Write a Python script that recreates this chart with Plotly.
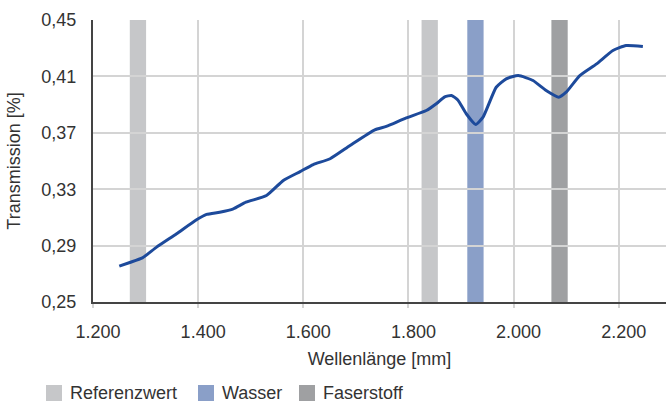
import plotly.graph_objects as go

# Spectrum: wavelength vs. transmission
wavelength = [1250, 1270, 1294, 1321, 1359, 1397, 1416, 1441, 1467, 1491, 1530,
              1562, 1594, 1619, 1651, 1689, 1736, 1758, 1796, 1834, 1853, 1869,
              1882, 1894, 1910, 1928, 1942, 1967, 1986, 2009, 2037, 2062, 2086,
              2100, 2126, 2158, 2189, 2214, 2246]
transmission = [0.2754, 0.2780, 0.2813, 0.2889, 0.2984, 0.3083, 0.3121, 0.3137,
                0.3161, 0.3208, 0.3255, 0.3362, 0.3425, 0.3475, 0.3516, 0.3610,
                0.3721, 0.3745, 0.3806, 0.3858, 0.3906, 0.3955, 0.3965, 0.3933,
                0.3835, 0.3759, 0.3811, 0.4023, 0.4083, 0.4106, 0.4071, 0.4000,
                0.3953, 0.3988, 0.4106, 0.4189, 0.4284, 0.4319, 0.4312]

# Absorption bands (start, end) per category
band_names = ["Referenzwert", "Referenzwert", "Wasser", "Faserstoff"]
band_start = [1270, 1825, 1912, 2072]
band_end = [1301, 1856, 1943, 2103]
band_colors = {"Referenzwert": "#c6c7c9", "Wasser": "#8a9fc8", "Faserstoff": "#9fa0a2"}
legend_items = ["Referenzwert", "Wasser", "Faserstoff"]

x_ticks = [1200, 1400, 1600, 1800, 2000, 2200]
y_ticks = [0.25, 0.29, 0.33, 0.37, 0.41, 0.45]

FONT = "Liberation Sans, Arial, sans-serif"
FS = 18
TXT = "#333333"

W, H = 666, 405
ML, MR, MT, MB = 93, 0, 20, 103
PW, PH = W - ML - MR, H - MT - MB


def px_x(p):
    return (p - ML) / PW


def px_y(p):
    return (H - MB - p) / PH


fig = go.Figure()

shapes = []
for name, x0, x1 in zip(band_names, band_start, band_end):
    shapes.append(dict(type="rect", xref="x", yref="paper", x0=x0, x1=x1,
                       y0=0, y1=1, fillcolor=band_colors[name],
                       line=dict(width=0), layer="between"))

fig.add_trace(go.Scatter(
    x=wavelength, y=transmission, mode="lines",
    line=dict(color="#1d4a9b", width=3, shape="spline", smoothing=0.5),
    showlegend=False, hoverinfo="x+y"))

# Legend swatches and labels below the axis title
annotations = []
swatch_left = [46, 198, 299]
for name, left in zip(legend_items, swatch_left):
    shapes.append(dict(type="rect", xref="paper", yref="paper",
                       x0=px_x(left), x1=px_x(left + 16),
                       y0=px_y(401), y1=px_y(385),
                       fillcolor=band_colors[name], line=dict(width=0)))
    annotations.append(dict(xref="paper", yref="paper", x=px_x(left + 22),
                            y=px_y(393), text=name, showarrow=False,
                            xanchor="left", yanchor="middle",
                            font=dict(family=FONT, size=FS, color=TXT)))

fig.update_layout(
    width=W, height=H,
    margin=dict(l=ML, r=MR, t=MT, b=MB, pad=0),
    paper_bgcolor="white", plot_bgcolor="white",
    separators=",.",
    font=dict(family=FONT, size=FS, color=TXT),
    shapes=shapes, annotations=annotations,
    showlegend=False,
)

fig.update_xaxes(
    range=[1200, 2290], tickvals=x_ticks, tickformat=",d",
    showgrid=True, gridcolor="#d4d4d4", gridwidth=2,
    showline=True, linecolor="#444444", linewidth=2,
    ticks="outside", ticklen=4, tickcolor="#d4d4d4", tickwidth=2,
    ticklabelshift=5, ticklabelstandoff=8,
    zeroline=False,
    title=dict(text="Wellenlänge [mm]", standoff=12,
               font=dict(family=FONT, size=FS, color=TXT)),
)
fig.update_yaxes(
    range=[0.25, 0.45], tickvals=y_ticks, tickformat=".2f",
    showgrid=True, gridcolor="#d4d4d4", gridwidth=2,
    showline=True, linecolor="#444444", linewidth=2,
    ticks="", ticklabelstandoff=11,
    zeroline=False,
    title=dict(text="Transmission [%]", standoff=16,
               font=dict(family=FONT, size=FS, color=TXT)),
)

fig.write_html("out.html")
